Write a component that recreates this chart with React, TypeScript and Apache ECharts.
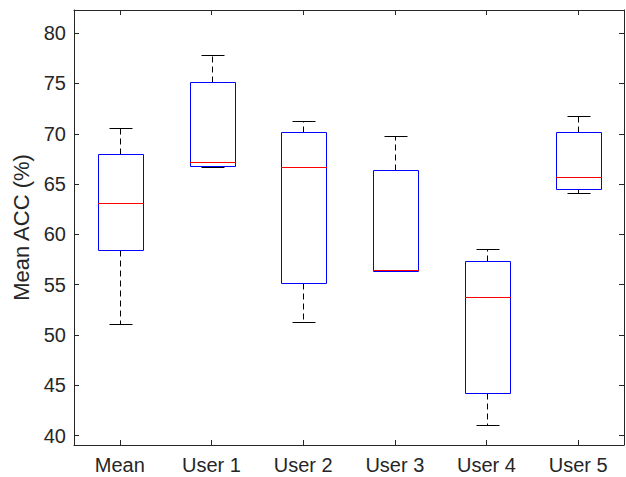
import React, { useEffect, useRef } from "react";
import * as echarts from "echarts";

const categories = ["Mean", "User 1", "User 2", "User 3", "User 4", "User 5"];
// box statistics per category
const lowerWhisker = [51.1, 66.65, 51.3, 56.4, 41.05, 64.07];
const q1 = [58.45, 66.78, 55.13, 56.4, 44.2, 64.47];
const median = [63.1, 67.2, 66.65, 56.42, 53.8, 65.67];
const q3 = [68.0, 75.1, 70.15, 66.4, 57.33, 70.2];
const upperWhisker = [70.55, 77.8, 71.3, 69.77, 58.52, 71.78];
const yTicks = [40, 45, 50, 55, 60, 65, 70, 75, 80];
const yMin = 39.07;
const yMax = 82.3;

const FONT = "'Liberation Sans', Arial, Helvetica, sans-serif";
const AXIS_COLOR = "#262626";

export default function App() {
  const ref = useRef<HTMLDivElement>(null);
  useEffect(() => {
    if (!ref.current) return;
    const chart = echarts.init(ref.current, null, { renderer: "svg" });
    const data = categories.map((_, i) => [i, lowerWhisker[i], q1[i], median[i], q3[i], upperWhisker[i]]);
    const px = (v: number) => Math.round(v) + 0.5;

    const renderItem = (params: any, api: any) => {
      const idx = api.value(0);
      const lo = api.coord([idx, api.value(1)]);
      const b1 = api.coord([idx, api.value(2)]);
      const md = api.coord([idx, api.value(3)]);
      const b3 = api.coord([idx, api.value(4)]);
      const hi = api.coord([idx, api.value(5)]);
      const band = api.size([1, 0])[0];
      const cx = px(lo[0]);
      const half = band * 0.25;
      const capHalf = band * 0.125;
      const boxL = px(cx - half);
      const boxR = px(cx + half);
      const capL = px(cx - capHalf);
      const capR = px(cx + capHalf);
      const yLo = px(lo[1]);
      const yQ1 = px(b1[1]);
      const yMd = Math.round(md[1]);
      const yQ3 = px(b3[1]);
      const yHi = px(hi[1]);
      const dash = { stroke: "#000000", lineWidth: 1, lineDash: [6, 4], fill: null };
      const solid = { stroke: "#000000", lineWidth: 1, fill: null };
      return {
        type: "group",
        children: [
          { type: "line", shape: { x1: cx, y1: yQ3, x2: cx, y2: yHi }, style: dash },
          { type: "line", shape: { x1: cx, y1: yQ1, x2: cx, y2: yLo }, style: dash },
          { type: "line", shape: { x1: capL, y1: yHi, x2: capR, y2: yHi }, style: solid },
          { type: "line", shape: { x1: capL, y1: yLo, x2: capR, y2: yLo }, style: solid },
          {
            type: "rect",
            shape: { x: boxL, y: yQ3, width: boxR - boxL, height: yQ1 - yQ3 },
            style: { stroke: "#0000ff", lineWidth: 1, fill: null },
          },
          {
            type: "rect",
            z2: 10,
            shape: { x: boxL - 0.5, y: yMd, width: boxR - boxL + 1, height: 1 },
            style: { fill: "#ff0000", stroke: null },
          },
        ],
      };
    };

    const catAxisBase = {
      type: "category",
      data: categories,
      boundaryGap: true,
      axisLine: { show: true, lineStyle: { color: AXIS_COLOR, width: 1 } },
      axisTick: { show: true, inside: true, length: 5, alignWithLabel: true, lineStyle: { color: AXIS_COLOR } },
      splitLine: { show: false },
    };
    const valAxisBase = {
      type: "value",
      min: yMin,
      max: yMax,
      axisLine: { show: true, lineStyle: { color: AXIS_COLOR, width: 1 } },
      axisTick: { show: true, inside: true, length: 5, customValues: yTicks, lineStyle: { color: AXIS_COLOR } },
      splitLine: { show: false },
    };

    chart.setOption({
      animation: false,
      backgroundColor: "#ffffff",
      grid: { left: 74, right: 2, top: 10, bottom: 32, containLabel: false },
      xAxis: [
        {
          ...catAxisBase,
          position: "bottom",
          axisLabel: { color: AXIS_COLOR, fontSize: 20, fontFamily: FONT, margin: 10 },
        },
        {
          ...catAxisBase,
          position: "top",
          axisLabel: { show: false },
        },
      ],
      yAxis: [
        {
          ...valAxisBase,
          position: "left",
          name: "Mean ACC (%)",
          nameLocation: "middle",
          nameGap: 36,
          nameTextStyle: { color: AXIS_COLOR, fontSize: 22, fontFamily: FONT },
          axisLabel: { color: AXIS_COLOR, fontSize: 20, fontFamily: FONT, margin: 8, customValues: yTicks },
        },
        {
          ...valAxisBase,
          position: "right",
          axisLabel: { show: false },
        },
      ],
      series: [
        {
          type: "custom",
          xAxisIndex: 0,
          yAxisIndex: 0,
          renderItem,
          data,
          encode: { x: 0, y: [1, 2, 3, 4, 5] },
          clip: false,
        },
      ],
    });
    return () => chart.dispose();
  }, []);
  return (
    <div
      ref={ref}
      style={{ position: "fixed", left: 0, top: 0, width: 626, height: 477, background: "#fff" }}
    />
  );
}
